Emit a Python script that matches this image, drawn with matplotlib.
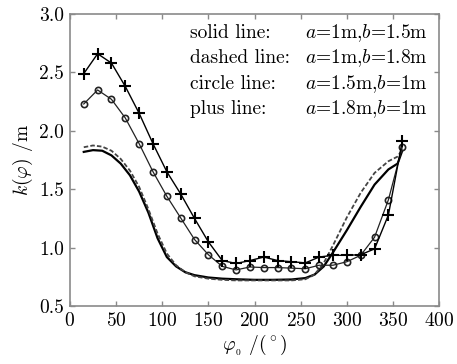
import numpy as np
import matplotlib
matplotlib.use("Agg")
import matplotlib.pyplot as plt

plt.rcParams['font.family'] = 'serif'
plt.rcParams['font.serif'] = ['cmr10', 'DejaVu Serif']
plt.rcParams['mathtext.fontset'] = 'cm'
plt.rcParams['axes.formatter.use_mathtext'] = True

# solid line: a=1m, b=1.5m
phi_solid = [15, 25, 35, 45, 55, 65, 75, 85, 95, 105, 115, 125, 135, 150, 165,
             180, 200, 220, 240, 255, 265, 275, 285, 300, 315, 330, 345, 355, 360]
k_solid = [1.82, 1.835, 1.83, 1.79, 1.72, 1.62, 1.48, 1.30, 1.08, 0.92, 0.84, 0.79,
           0.765, 0.745, 0.735, 0.73, 0.725, 0.725, 0.728, 0.74, 0.77, 0.84, 0.96,
           1.15, 1.35, 1.54, 1.67, 1.72, 1.83]

# dashed line: a=1m, b=1.8m
phi_dash = phi_solid
k_dash = [1.86, 1.875, 1.865, 1.83, 1.76, 1.66, 1.52, 1.33, 1.12, 0.95, 0.85, 0.79,
          0.755, 0.735, 0.725, 0.72, 0.72, 0.72, 0.72, 0.73, 0.77, 0.87, 1.02,
          1.26, 1.47, 1.64, 1.74, 1.78, 1.84]

# circle line: a=1.5m, b=1m ; plus line: a=1.8m, b=1m
phi_mark = list(range(15, 361, 15))
k_circle = [2.23, 2.35, 2.27, 2.11, 1.89, 1.65, 1.44, 1.255, 1.07, 0.94, 0.84, 0.81,
            0.835, 0.83, 0.83, 0.825, 0.82, 0.85, 0.85, 0.88, 0.935, 1.09, 1.41, 1.86]
k_plus = [2.49, 2.66, 2.58, 2.38, 2.15, 1.89, 1.65, 1.46, 1.25, 1.05, 0.89, 0.865,
          0.89, 0.92, 0.89, 0.88, 0.87, 0.92, 0.935, 0.935, 0.94, 0.99, 1.28, 1.91]

fig = plt.figure(figsize=(4.57, 3.64), dpi=100)
ax = fig.add_axes([0.153, 0.159, 0.808, 0.8025])

ax.plot(phi_solid, k_solid, color='black', lw=1.6)
ax.plot(phi_dash, k_dash, color='#444444', lw=1.3, ls=(0, (2.5, 1.2)))
ax.plot(phi_mark, k_circle, color='#222222', lw=0.9, marker='o', ms=4.5,
        mfc='none', mec='#222222', mew=1.2)
ax.plot(phi_mark, k_plus, color='black', lw=1.0, marker='+', ms=8, mew=1.5)

ax.set_xlim(0, 400)
ax.set_ylim(0.5, 3.0)
ax.set_xticks(np.arange(0, 401, 50))
ax.set_yticks(np.arange(0.5, 3.01, 0.5))
ax.set_yticklabels(['%.1f' % v for v in np.arange(0.5, 3.01, 0.5)])

for s in ax.spines.values():
    s.set_color('#8a8a8a')
    s.set_linewidth(1.2)
ax.tick_params(direction='in', top=True, right=True, length=3.5, width=1,
               color='#8a8a8a', labelsize=14, pad=4)

ax.set_xlabel(r'$\varphi_{_0}$ /($^\circ$)', fontsize=14, labelpad=2)
ax.set_ylabel(r'$k(\varphi)$ /m', fontsize=14, labelpad=3)

labels = ['solid line:', 'dashed line:', 'circle line:', 'plus line:']
values = [r'$a$=1m,$b$=1.5m', r'$a$=1m,$b$=1.8m', r'$a$=1.5m,$b$=1m', r'$a$=1.8m,$b$=1m']
for i, (lab, val) in enumerate(zip(labels, values)):
    y = 0.935 - i * 0.087
    ax.text(0.324, y, lab, transform=ax.transAxes, fontsize=14, va='center', ha='left')
    ax.text(0.636, y, val, transform=ax.transAxes, fontsize=14, va='center', ha='left')

fig.savefig('out.png', dpi=100)
